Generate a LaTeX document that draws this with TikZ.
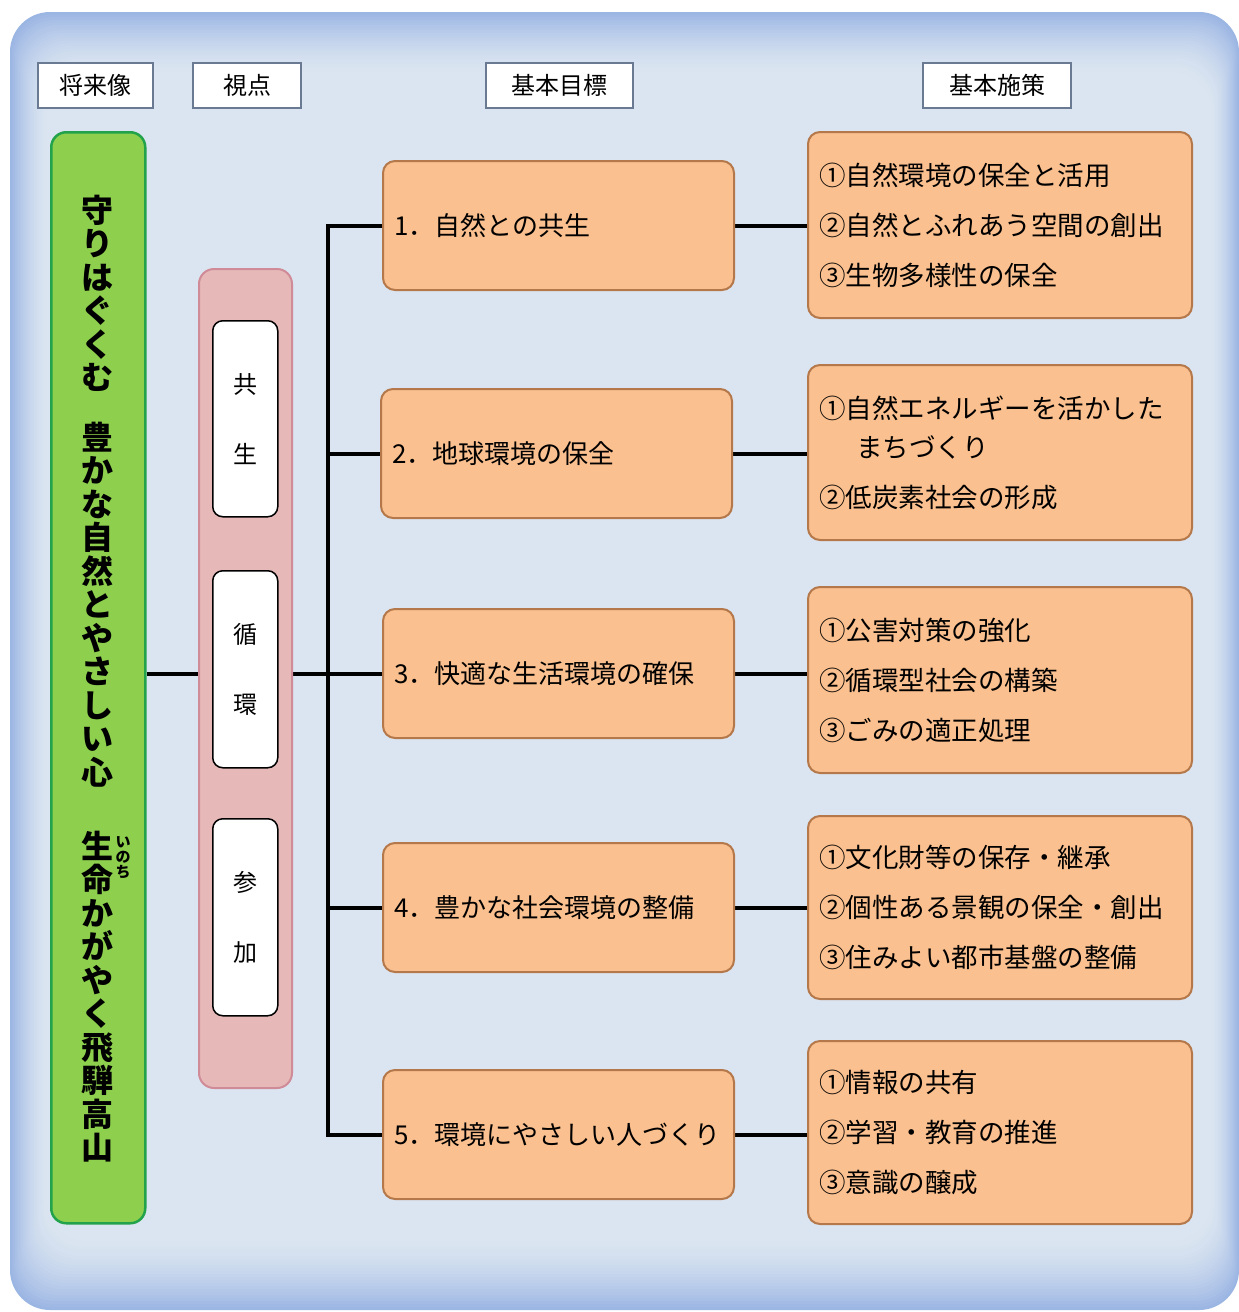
\documentclass[tikz,border=0pt]{standalone}
\usepackage{fontspec}
\setmainfont{Noto Sans CJK JP}
\usetikzlibrary{backgrounds}
\definecolor{bglight}{HTML}{DBE5F1}
\definecolor{bgedge}{HTML}{9CB6E3}
\definecolor{hdrborder}{HTML}{6A7A92}
\definecolor{orgfill}{HTML}{FAC08F}
\definecolor{orgborder}{HTML}{B5784A}
\definecolor{grnfill}{HTML}{8ED04E}
\definecolor{grnborder}{HTML}{22A24A}
\definecolor{pnkfill}{HTML}{E6B8B7}
\definecolor{pnkborder}{HTML}{CF8C98}
\begin{document}
\begin{tikzpicture}[x=1pt,y=-1pt,
  hdr/.style={draw=hdrborder, line width=2pt, fill=white, minimum height=45pt,
    font=\fontsize{24}{28}\selectfont, anchor=north west, inner sep=0pt},
  goal/.style={draw=orgborder, line width=2pt, fill=orgfill, rounded corners=12pt,
    anchor=north west, minimum width=351pt, minimum height=129pt, text width=329pt,
    align=left, inner xsep=11pt, font=\fontsize{26}{30}\selectfont},
  meas/.style={draw=orgborder, line width=2pt, fill=orgfill, rounded corners=12pt,
    anchor=north west, minimum width=384pt, text width=362pt,
    align=left, inner xsep=11pt, font=\fontsize{26.5}{50}\selectfont},
  vbox/.style={draw=black, line width=1.5pt, fill=white, rounded corners=10pt,
    anchor=north west, minimum width=65pt, inner sep=0pt, align=center,
    font=\fontsize{24}{70}\selectfont},
  vtext/.style={align=center, inner sep=0pt, font=\fontsize{32}{33.5}\selectfont\bfseries},
  conn/.style={line width=4pt, black},
]
\useasboundingbox (0,0) rectangle (1239,1312);
\begin{pgfonlayer}{background}
  \fill[white] (0,0) rectangle (1239,1312);
  \foreach \i in {0,...,24}{
    \pgfmathtruncatemacro\c{100*(1-\i/24)^1.6}
    \fill[bgedge!\c!bglight, rounded corners=40pt]
      ({10+\i*1.6},{12+\i*2.6}) rectangle ({1239-\i*1.2},{1310-\i*3.0});
  }
\end{pgfonlayer}

% headers
\node[hdr, minimum width=115pt] (hA) at (37,62) {将来像};
\node[hdr, minimum width=108pt] (hB) at (192,62) {視点};
\node[hdr, minimum width=147pt] (hC) at (485,62) {基本目標};
\node[hdr, minimum width=148pt] (hD) at (922,62) {基本施策};

% vision
\node[draw=grnborder, line width=2.5pt, fill=grnfill, rounded corners=15pt,
  anchor=north west, minimum width=94pt, minimum height=1091pt] (vision) at (50,131) {};
\node[vtext] (vt1) at (97,293.5) {守\\り\\は\\ぐ\\く\\む};
\node[vtext] (vt2) at (97,604.5) {豊\\か\\な\\自\\然\\と\\や\\さ\\し\\い\\心};
\node[vtext] (vt3) at (97,996.5) {生\\命\\か\\が\\や\\く\\飛\\騨\\高\\山};
\node[align=center, inner sep=0pt, font=\fontsize{15}{15}\selectfont\bfseries] (ruby) at (123,858) {い\\の\\ち};

% viewpoints
\node[draw=pnkborder, line width=2pt, fill=pnkfill, rounded corners=15pt,
  anchor=north west, minimum width=93pt, minimum height=819pt] (view) at (198,268) {};
\node[vbox, minimum height=196pt] (v1) at (212,320) {共\\生};
\node[vbox, minimum height=197pt] (v2) at (212,570) {循\\環};
\node[vbox, minimum height=197pt] (v3) at (212,818) {参\\加};

% goals
\node[goal] (g1) at (382,160) {1．自然との共生};
\node[goal] (g2) at (380,388) {2．地球環境の保全};
\node[goal] (g3) at (382,608) {3．快適な生活環境の確保};
\node[goal] (g4) at (382,842) {4．豊かな社会環境の整備};
\node[goal] (g5) at (382,1069) {5．環境にやさしい人づくり};

% measures
\node[meas, minimum height=186pt] (m1) at (807,131) {①自然環境の保全と活用\\②自然とふれあう空間の創出\\③生物多様性の保全};
\node[meas, minimum height=175pt] (m2) at (807,364) {①自然エネルギーを活かした\\[-11pt]\hspace*{37pt}まちづくり\\②低炭素社会の形成};
\node[meas, minimum height=186pt] (m3) at (807,586) {①公害対策の強化\\②循環型社会の構築\\③ごみの適正処理};
\node[meas, minimum height=183pt] (m4) at (807,815) {①文化財等の保存・継承\\②個性ある景観の保全・創出\\③住みよい都市基盤の整備};
\node[meas, minimum height=183pt] (m5) at (807,1040) {①情報の共有\\②学習・教育の推進\\③意識の醸成};

% connectors
\coordinate (trunk) at (328,0);
\begin{pgfonlayer}{background}
  \draw[conn] (vision.east |- g3.west) -- (g3.west);
  \draw[conn] (g1.west) -- (trunk |- g1.west) -- (trunk |- g5.west) -- (g5.west);
  \draw[conn] (trunk |- g2.west) -- (g2.west);
  \draw[conn] (trunk |- g4.west) -- (g4.west);
  \draw[conn] (g1.east) -- (m1.west |- g1.east);
  \draw[conn] (g2.east) -- (m2.west |- g2.east);
  \draw[conn] (g3.east) -- (m3.west |- g3.east);
  \draw[conn] (g4.east) -- (m4.west |- g4.east);
  \draw[conn] (g5.east) -- (m5.west |- g5.east);
\end{pgfonlayer}
\end{tikzpicture}
\end{document}
